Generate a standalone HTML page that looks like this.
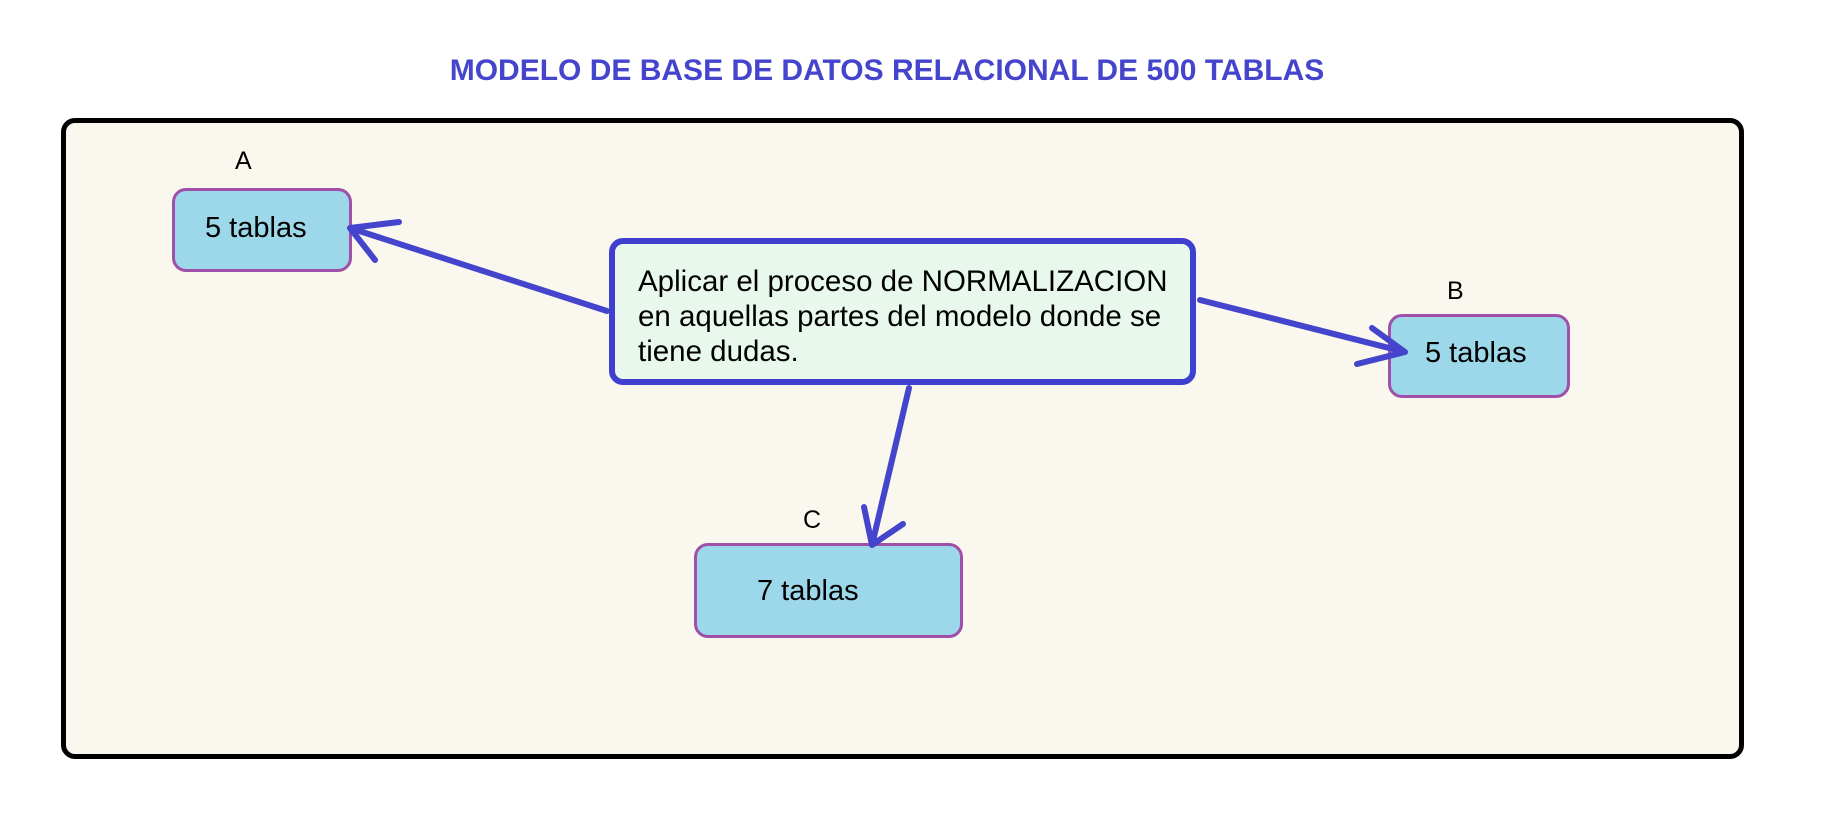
<!DOCTYPE html>
<html><head><style>
body{margin:0;width:1830px;height:817px;background:#fff;position:relative;overflow:hidden;font-family:"Liberation Sans",sans-serif}
.t{position:absolute;white-space:nowrap}
.box{position:absolute;background:#9dd8ea;border:3px solid #a050a8;border-radius:14px;box-sizing:border-box}
</style></head><body>
<div class="t" style="left:400px;top:54px;width:974px;text-align:center;font-size:30px;font-weight:bold;color:#4444cc">MODELO DE BASE DE DATOS RELACIONAL DE 500 TABLAS</div>
<div style="position:absolute;left:61px;top:118px;width:1683px;height:641px;box-sizing:border-box;border:5px solid #000;border-radius:14px;background:#faf8ee"></div>
<div class="t" style="left:235px;top:147px;font-size:25px">A</div>
<div class="box" style="left:172px;top:188px;width:180px;height:84px"></div>
<div class="t" style="left:205px;top:212px;font-size:29px">5 tablas</div>
<div class="t" style="left:1447px;top:277px;font-size:25px">B</div>
<div class="box" style="left:1388px;top:314px;width:182px;height:84px"></div>
<div class="t" style="left:1425px;top:337px;font-size:29px">5 tablas</div>
<div class="t" style="left:803px;top:506px;font-size:25px">C</div>
<div class="box" style="left:694px;top:543px;width:269px;height:95px"></div>
<div class="t" style="left:757px;top:575px;font-size:29px">7 tablas</div>
<div style="position:absolute;left:609px;top:238px;width:587px;height:147px;box-sizing:border-box;border:6px solid #4040d0;border-radius:14px;background:#e8f8ec"></div>
<div class="t" style="left:638px;top:264px;font-size:29.5px;line-height:35px">Aplicar el proceso de NORMALIZACION<br>en aquellas partes del modelo donde se<br>tiene dudas.</div>
<svg width="1830" height="817" style="position:absolute;left:0;top:0" fill="none" stroke="#4444cc" stroke-width="6" stroke-linecap="round" stroke-linejoin="round">
<path d="M607 311 L350 228 M399 222 L350 228 L375 260"/>
<path d="M1200 300 L1405 352 M1357 364 L1405 352 L1372 328"/>
<path d="M909 388 L872 545 M864 507 L872 545 L903 524"/>
</svg>
</body></html>
